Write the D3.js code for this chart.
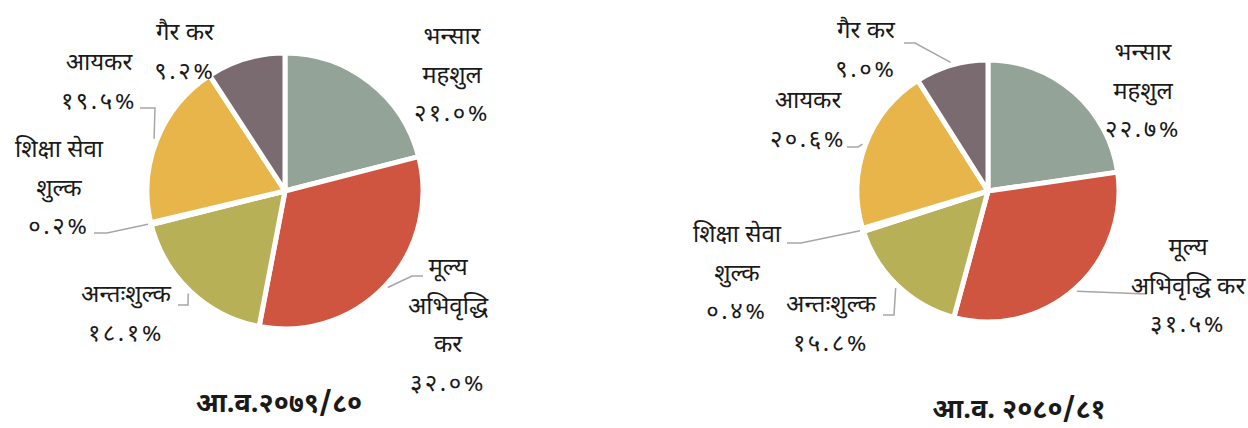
<!DOCTYPE html>
<html>
<head>
<meta charset="utf-8">
<script src="https://cdn.jsdelivr.net/npm/d3@7"></script>
<style>
  body { margin: 0; background: #fff; }
  svg text { font-family: 'Noto Sans Devanagari', 'Noto Sans', sans-serif; fill: #1a1a1a; }
</style>
</head>
<body>
<svg id="chart" width="1248" height="428"></svg>
<script>
// data
const categories = ['भन्सार महशुल', 'मूल्य अभिवृद्धि कर', 'अन्तःशुल्क', 'शिक्षा सेवा शुल्क', 'आयकर', 'गैर कर'];
const share2079 = [21.0, 32.0, 18.1, 0.2, 19.5, 9.2];
const share2080 = [22.7, 31.5, 15.8, 0.4, 20.6, 9.0];
const titles = ['आ.व.२०७९/८०', 'आ.व. २०८०/८१'];
const colors = ['#94a397', '#d05541', '#b7b056', '#6f8fb8', '#e8b54b', '#7a6b70'];

// label layout (line breaks, position of first line, leader elbows)
const leftLabels = [
  { lines: ['भन्सार', 'महशुल'], x: 452, y: 44 },
  { lines: ['मूल्य', 'अभिवृद्धि', 'कर'], x: 448, y: 275, leader: [[412, 276], [423, 276]] },
  { lines: ['अन्तःशुल्क'], x: 126, y: 302, leader: [[188, 305], [178, 305]] },
  { lines: ['शिक्षा सेवा', 'शुल्क'], x: 59, y: 157, leader: [[107, 233], [94, 233]] },
  { lines: ['आयकर'], x: 99, y: 70, leader: [[155, 108], [140, 108]] },
  { lines: ['गैर कर'], x: 185, y: 40 }
];
const rightLabels = [
  { lines: ['भन्सार', 'महशुल'], x: 1143, y: 60 },
  { lines: ['मूल्य', 'अभिवृद्धि कर'], x: 1188, y: 255, leader: [[1147, 294]] },
  { lines: ['अन्तःशुल्क'], x: 831, y: 312, leader: [[894, 315], [883, 315]] },
  { lines: ['शिक्षा सेवा', 'शुल्क'], x: 737, y: 242, leader: [[801, 243], [787, 243]] },
  { lines: ['आयकर'], x: 808, y: 108, leader: [[858, 147], [847, 147]] },
  { lines: ['गैर कर'], x: 866, y: 38, leader: [[915, 43], [904, 43]] }
];

const devDigits = '०१२३४५६७८९';
const toDev = s => s.replace(/[0-9]/g, c => devDigits[+c]);
const fmt = v => toDev(v.toFixed(1)) + '%';

const svg = d3.select('#chart');
const lineH = 38.5;

const drawPie = (values, labels, cx, cy, r, title, tx, ty) => {
  const data = categories.map((c, i) => ({ name: c, value: values[i], color: colors[i] }));
  const pie = d3.pie().sort(null).value(d => d.value);
  const arcs = pie(data);
  const arc = d3.arc().innerRadius(0).outerRadius(r);
  const edge = d3.arc().innerRadius(r + 3).outerRadius(r + 3);

  const g = svg.append('g').attr('transform', 'translate(' + cx + ',' + cy + ')');
  g.selectAll('path')
    .data(arcs)
    .enter()
    .append('path')
    .attr('d', arc)
    .attr('fill', d => d.data.color)
    .attr('stroke', '#fff')
    .attr('stroke-width', 5)
    .attr('stroke-linejoin', 'round');

  // leader lines
  arcs.forEach((d, i) => {
    const lab = labels[i];
    if (!lab.leader) return;
    const p = edge.centroid(d);
    const pts = [[cx + p[0], cy + p[1]]].concat(lab.leader);
    svg.append('path')
      .attr('d', d3.line()(pts))
      .attr('fill', 'none')
      .attr('stroke', '#a6a6a6')
      .attr('stroke-width', 1.5);
  });

  // labels
  arcs.forEach((d, i) => {
    const lab = labels[i];
    const t = svg.append('text')
      .attr('text-anchor', 'middle')
      .attr('font-size', 24);
    lab.lines.forEach((s, k) => {
      t.append('tspan')
        .attr('x', lab.x)
        .attr('y', lab.y + k * lineH)
        .text(s);
    });
    t.append('tspan')
      .attr('x', lab.x)
      .attr('y', lab.y + lab.lines.length * lineH)
      .attr('letter-spacing', 2.5)
      .text(fmt(d.data.value));
  });

  svg.append('text')
    .attr('x', tx)
    .attr('y', ty)
    .attr('text-anchor', 'middle')
    .attr('font-size', 27)
    .attr('font-weight', 'bold')
    .text(title);
};

drawPie(share2079, leftLabels, 285, 191, 138, titles[0], 279, 412);
drawPie(share2080, rightLabels, 988, 191, 131, titles[1], 1019, 418);
</script>
</body>
</html>
